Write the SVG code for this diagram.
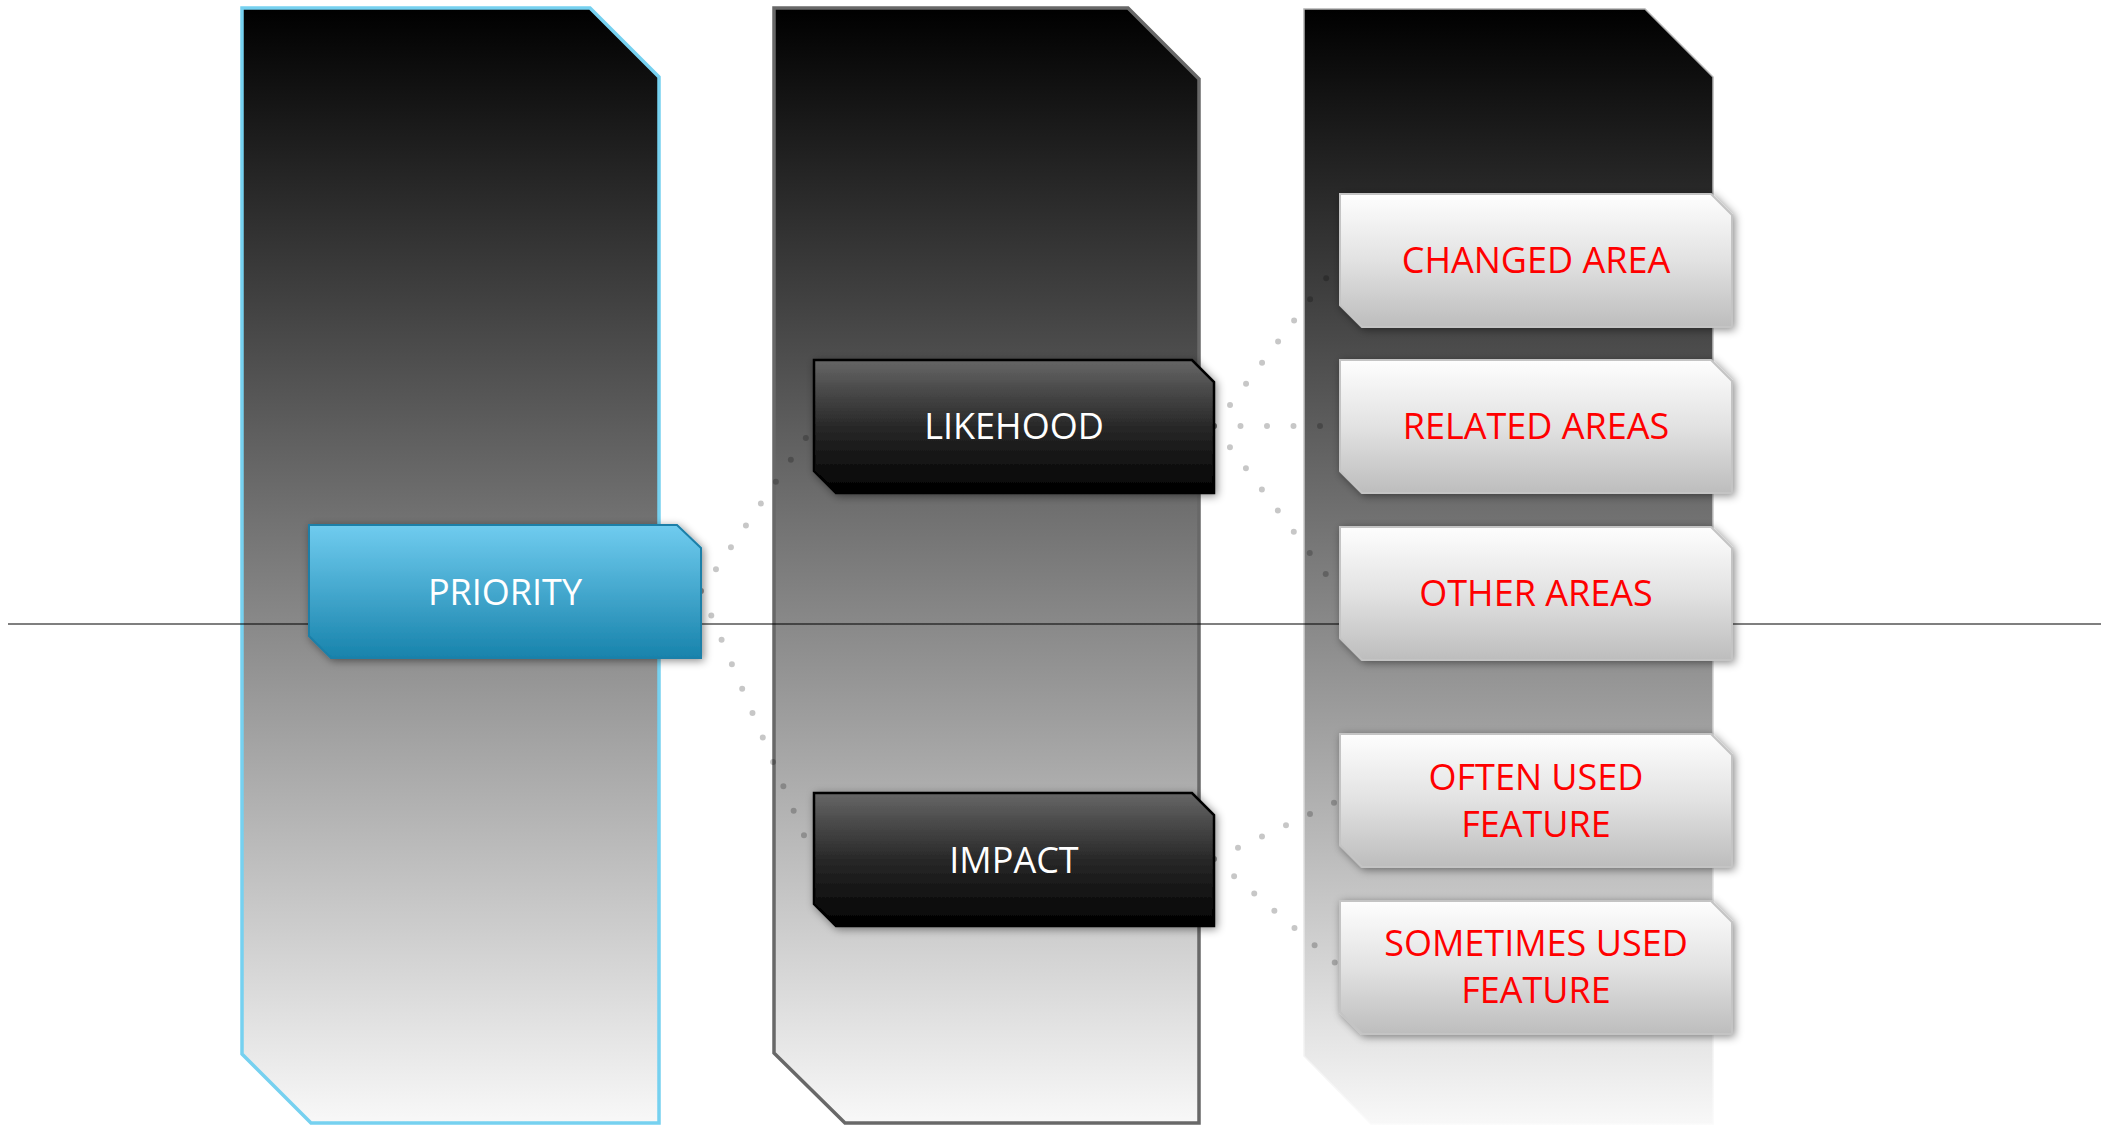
<svg xmlns="http://www.w3.org/2000/svg" width="2104" height="1126" viewBox="0 0 2104 1126">
  <defs>
    <linearGradient id="colGrad" x1="0" y1="0" x2="0" y2="1">
      <stop offset="0" stop-color="#000000"/>
      <stop offset="1" stop-color="#f8f8f8"/>
    </linearGradient>
    <linearGradient id="col3Stroke" x1="0" y1="0" x2="0" y2="1">
      <stop offset="0" stop-color="#b0b0b0"/>
      <stop offset="0.7" stop-color="#d8d8d8"/>
      <stop offset="1" stop-color="#fafafa"/>
    </linearGradient>
    <linearGradient id="blueGrad" x1="0" y1="0" x2="0" y2="1">
      <stop offset="0" stop-color="#70CCEF"/>
      <stop offset="1" stop-color="#1883AC"/>
    </linearGradient>
    <linearGradient id="darkGrad" x1="0" y1="0" x2="0" y2="1">
      <stop offset="0" stop-color="#666666"/>
      <stop offset="0.5" stop-color="#282828"/>
      <stop offset="1" stop-color="#000000"/>
    </linearGradient>
    <linearGradient id="lightGrad" x1="0" y1="0" x2="0" y2="1">
      <stop offset="0" stop-color="#fefefe"/>
      <stop offset="0.5" stop-color="#e2e2e2"/>
      <stop offset="1" stop-color="#bdbdbd"/>
    </linearGradient>
    <filter id="shadow" x="-10%" y="-20%" width="125%" height="150%">
      <feDropShadow dx="2" dy="2" stdDeviation="4" flood-color="#000" flood-opacity="0.45"/>
    </filter>
  </defs>
  <style>
    .col { fill: url(#colGrad); }
    .c1 { stroke: #76D1F0; stroke-width: 3.5; }
    .c2 { stroke: #686868; stroke-width: 3.5; }
    .c3 { stroke: url(#col3Stroke); stroke-width: 1.5; }
    .blue { fill: url(#blueGrad); stroke: #1A7FA8; stroke-width: 2; filter: url(#shadow); }
    .dark { fill: url(#darkGrad); stroke: #000; stroke-width: 2.5; filter: url(#shadow); }
    .light { fill: url(#lightGrad); stroke: #c4c4c4; stroke-width: 2; filter: url(#shadow); }
    .t { font-family: "Open Sans", "Liberation Sans", sans-serif; font-size: 36px; text-anchor: middle; }
    .tw { fill: #ffffff; }
    .tr { fill: #ff0000; }
    .dots { fill: none; stroke: #000; stroke-opacity: 0.22; stroke-width: 6; stroke-linecap: round; stroke-dasharray: 0 26.5; }
    .axis { stroke: #000; stroke-opacity: 0.5; stroke-width: 2; }
  </style>

  <rect x="0" y="0" width="2104" height="1126" fill="#ffffff"/>

  <g id="columns">
    <path id="column1" class="col c1" d="M242,8 L590,8 L659,77 L659,1123 L311,1123 L242,1054 Z"/>
    <path id="column2" class="col c2" d="M774,8 L1128,8 L1199,79 L1199,1123 L845,1123 L774,1053 Z"/>
    <path id="column3" class="col c3" d="M1304,9 L1645,9 L1713,77 L1713,1124 L1371,1124 L1304,1056 Z"/>
  </g>

  <line id="axis" class="axis" x1="8" y1="624" x2="2101" y2="624"/>

  <g id="connectors">
    <line class="dots" x1="701" y1="591" x2="814" y2="426"/>
    <line class="dots" x1="701" y1="591" x2="814" y2="859"/>
    <line class="dots" x1="1214" y1="426" x2="1340" y2="260"/>
    <line class="dots" x1="1214" y1="426" x2="1340" y2="426"/>
    <line class="dots" x1="1214" y1="426" x2="1340" y2="593"/>
    <line class="dots" x1="1214" y1="859" x2="1340" y2="800"/>
    <line class="dots" x1="1214" y1="859" x2="1340" y2="967"/>
  </g>

  <g id="priority">
    <path class="blue" d="M309,525 L677,525 L701,548 L701,658 L331,658 L309,636 Z"/>
    <text class="t tw" x="505" y="605">PRIORITY</text>
  </g>

  <g id="likehood">
    <path class="dark" d="M814,360 L1192,360 L1214,382 L1214,493 L836,493 L814,471 Z"/>
    <text class="t tw" x="1014" y="439">LIKEHOOD</text>
  </g>

  <g id="impact">
    <path class="dark" d="M814,793 L1192,793 L1214,815 L1214,926 L836,926 L814,904 Z"/>
    <text class="t tw" x="1014" y="873">IMPACT</text>
  </g>

  <g id="changed-area">
    <path class="light" d="M1340,194 L1711,194 L1732,215 L1732,327 L1362,327 L1340,305 Z"/>
    <text class="t tr" x="1536" y="273">CHANGED AREA</text>
  </g>

  <g id="related-areas">
    <path class="light" d="M1340,360 L1711,360 L1732,381 L1732,493 L1362,493 L1340,471 Z"/>
    <text class="t tr" x="1536" y="439">RELATED AREAS</text>
  </g>

  <g id="other-areas">
    <path class="light" d="M1340,527 L1711,527 L1732,548 L1732,660 L1362,660 L1340,638 Z"/>
    <text class="t tr" x="1536" y="606">OTHER AREAS</text>
  </g>

  <g id="often-used-feature">
    <path class="light" d="M1340,734 L1711,734 L1732,755 L1732,867 L1362,867 L1340,845 Z"/>
    <text class="t tr" x="1536" y="790">OFTEN USED</text>
    <text class="t tr" x="1536" y="837">FEATURE</text>
  </g>

  <g id="sometimes-used-feature">
    <path class="light" d="M1340,901 L1711,901 L1732,922 L1732,1034 L1362,1034 L1340,1012 Z"/>
    <text class="t tr" x="1536" y="956">SOMETIMES USED</text>
    <text class="t tr" x="1536" y="1003">FEATURE</text>
  </g>
</svg>
